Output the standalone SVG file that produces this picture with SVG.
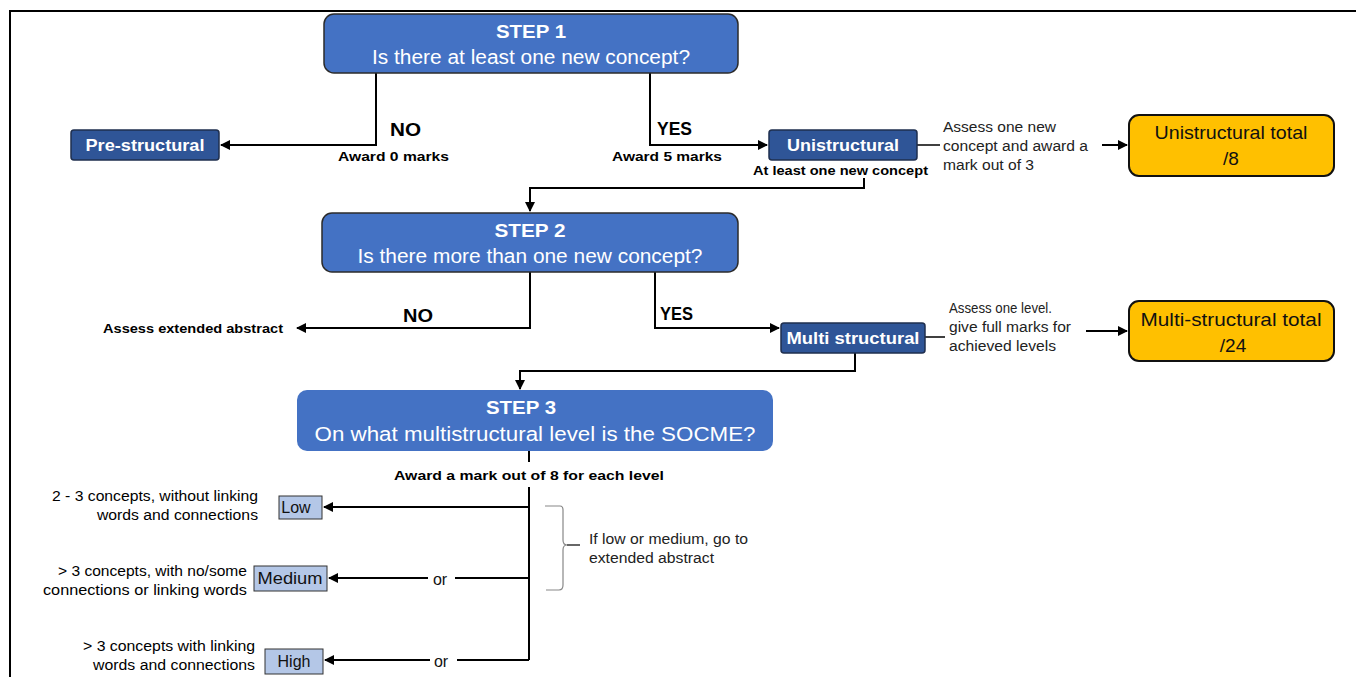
<svg xmlns="http://www.w3.org/2000/svg" width="1356" height="677" viewBox="0 0 1356 677">
  <style>
    text { font-family: "Liberation Sans", Arial, sans-serif; }
    .step { fill: #4472C4; stroke: #2B2B2B; stroke-width: 1.5; }
    .step3 { fill: #4472C4; }
    .stepTitle { fill: #fff; font-weight: bold; font-size: 19px; text-anchor: middle; }
    .stepQ { fill: #fff; font-size: 20px; text-anchor: middle; }
    .level { fill: #2F5597; stroke: #1F2F4F; stroke-width: 1.5; }
    .levelTxt { fill: #fff; font-weight: bold; font-size: 17px; text-anchor: middle; }
    .total { fill: #FFC000; stroke: #111; stroke-width: 2; }
    .totalTxt { fill: #111; font-size: 19px; text-anchor: middle; }
    .grade { fill: #B4C7E7; stroke: #333; stroke-width: 1; }
    .gradeTxt { fill: #111; font-size: 16px; text-anchor: middle; }
    .yn { fill: #000; font-weight: bold; font-size: 18px; }
    .award { fill: #000; font-weight: bold; font-size: 13px; }
    .note { fill: #222; font-size: 14px; }
    .desc { fill: #000; font-size: 14px; text-anchor: end; }
    .wire { fill: none; stroke: #000; stroke-width: 2; }
    .thin { fill: none; stroke: #000; stroke-width: 1.5; }
  </style>
  <defs>
    <marker id="arrow" viewBox="0 0 10 10" refX="9" refY="5" markerWidth="5" markerHeight="5" orient="auto" markerUnits="strokeWidth">
      <path d="M0,0 L10,5 L0,10 z" fill="#000"/>
    </marker>
  </defs>

  <rect width="1356" height="677" fill="#fff"/>
  <!-- page frame -->
  <path d="M10,677 V11 H1356" fill="none" stroke="#000" stroke-width="2"/>

  <!-- connectors -->
  <g id="connectors">
    <path class="wire" d="M376,73 V145 H221" marker-end="url(#arrow)"/>
    <path class="wire" d="M650,73 V145 H767" marker-end="url(#arrow)"/>
    <path class="thin" d="M917,145 H940"/>
    <path class="wire" d="M1102,145 H1127" marker-end="url(#arrow)"/>
    <path class="wire" d="M864,178 V188 H530 V211" marker-end="url(#arrow)"/>
    <path class="wire" d="M530,272 V328 H297" marker-end="url(#arrow)"/>
    <path class="wire" d="M655,272 V328 H779" marker-end="url(#arrow)"/>
    <path class="thin" d="M925,337 H945"/>
    <path class="wire" d="M1086,331 H1127" marker-end="url(#arrow)"/>
    <path class="wire" d="M855,353 V371 H520 V389" marker-end="url(#arrow)"/>
    <path class="wire" d="M529,451 V462"/>
    <path class="wire" d="M529,487 V660"/>
    <path class="wire" d="M529,507 H324" marker-end="url(#arrow)"/>
    <path class="wire" d="M529,578 H455"/>
    <path class="wire" d="M428,578 H329" marker-end="url(#arrow)"/>
    <path class="wire" d="M529,660 H457"/>
    <path class="wire" d="M430,660 H325" marker-end="url(#arrow)"/>
    <!-- brace grouping low and medium -->
    <path d="M545,506 H560 Q563,506 563,510 V540 Q563,545 567,545 Q563,545 563,550 V585 Q563,590 559,590 H546" fill="none" stroke="#888" stroke-width="1.2"/>
    <path d="M567,545 H580" stroke="#000" stroke-width="1.2"/>
  </g>

  <g id="step1">
    <rect class="step" x="324" y="14" width="414" height="59" rx="10"/>
    <text class="stepTitle" x="531" y="38" textLength="70" lengthAdjust="spacingAndGlyphs">STEP 1</text>
    <text class="stepQ" x="531" y="64" textLength="318" lengthAdjust="spacingAndGlyphs">Is there at least one new concept?</text>
  </g>

  <g id="prestructural">
    <rect class="level" x="71" y="130" width="148" height="30" rx="3"/>
    <text class="levelTxt" x="145" y="151" textLength="119" lengthAdjust="spacingAndGlyphs">Pre-structural</text>
  </g>
  <g id="step1-no-label">
    <text class="yn" x="390" y="136" textLength="31" lengthAdjust="spacingAndGlyphs">NO</text>
    <text class="award" x="338" y="161" textLength="111" lengthAdjust="spacingAndGlyphs">Award 0 marks</text>
  </g>
  <g id="step1-yes-label">
    <text class="yn" x="657" y="135" textLength="35" lengthAdjust="spacingAndGlyphs">YES</text>
    <text class="award" x="612" y="161" textLength="110" lengthAdjust="spacingAndGlyphs">Award 5 marks</text>
  </g>

  <g id="unistructural">
    <rect class="level" x="769" y="130" width="148" height="30" rx="3"/>
    <text class="levelTxt" x="843" y="151" textLength="112" lengthAdjust="spacingAndGlyphs">Unistructural</text>
    <text class="award" x="753" y="175" font-size="14" textLength="175" lengthAdjust="spacingAndGlyphs">At least one new concept</text>
  </g>
  <g id="unistructural-note">
    <text class="note" x="943" y="132" textLength="113" lengthAdjust="spacingAndGlyphs">Assess one new</text>
    <text class="note" x="943" y="151" textLength="145" lengthAdjust="spacingAndGlyphs">concept and award a</text>
    <text class="note" x="943" y="170" textLength="91" lengthAdjust="spacingAndGlyphs">mark out of 3</text>
  </g>
  <g id="unistructural-total">
    <rect class="total" x="1129" y="115" width="205" height="61" rx="10"/>
    <text class="totalTxt" x="1231" y="139" textLength="153" lengthAdjust="spacingAndGlyphs">Unistructural total</text>
    <text class="totalTxt" x="1231" y="165">/8</text>
  </g>

  <g id="step2">
    <rect class="step" x="322" y="213" width="416" height="59" rx="10"/>
    <text class="stepTitle" x="530" y="237" textLength="71" lengthAdjust="spacingAndGlyphs">STEP 2</text>
    <text class="stepQ" x="530" y="263" textLength="345" lengthAdjust="spacingAndGlyphs">Is there more than one new concept?</text>
  </g>
  <g id="extended-abstract">
    <text class="award" x="103" y="333" font-size="14" textLength="180" lengthAdjust="spacingAndGlyphs">Assess extended abstract</text>
  </g>
  <g id="step2-labels">
    <text class="yn" x="403" y="322" textLength="30" lengthAdjust="spacingAndGlyphs">NO</text>
    <text class="yn" x="660" y="320" textLength="33" lengthAdjust="spacingAndGlyphs">YES</text>
  </g>

  <g id="multistructural">
    <rect class="level" x="781" y="323" width="144" height="30" rx="3"/>
    <text class="levelTxt" x="853" y="344" textLength="133" lengthAdjust="spacingAndGlyphs">Multi structural</text>
  </g>
  <g id="multistructural-note">
    <text class="note" x="949" y="313" textLength="103" lengthAdjust="spacingAndGlyphs">Assess one level.</text>
    <text class="note" x="949" y="332" textLength="122" lengthAdjust="spacingAndGlyphs">give full marks for</text>
    <text class="note" x="949" y="351" textLength="107" lengthAdjust="spacingAndGlyphs">achieved levels</text>
  </g>
  <g id="multistructural-total">
    <rect class="total" x="1129" y="301" width="205" height="60" rx="10"/>
    <text class="totalTxt" x="1231" y="326" textLength="181" lengthAdjust="spacingAndGlyphs">Multi-structural  total</text>
    <text class="totalTxt" x="1233" y="352">/24</text>
  </g>

  <g id="step3">
    <rect class="step3" x="297" y="390" width="476" height="61" rx="10"/>
    <text class="stepTitle" x="521" y="414" textLength="70" lengthAdjust="spacingAndGlyphs">STEP 3</text>
    <text class="stepQ" x="535" y="441" textLength="441" lengthAdjust="spacingAndGlyphs">On what multistructural level is the SOCME?</text>
  </g>
  <g id="step3-award">
    <text class="award" x="394" y="480" font-size="14" textLength="270" lengthAdjust="spacingAndGlyphs">Award a mark out of 8 for each level</text>
  </g>

  <g id="low">
    <rect class="grade" x="279" y="496" width="43" height="23"/>
    <text class="gradeTxt" x="296" y="513">Low</text>
    <text class="desc" x="258" y="501" textLength="206" lengthAdjust="spacingAndGlyphs">2 - 3 concepts, without linking</text>
    <text class="desc" x="258" y="520" textLength="161" lengthAdjust="spacingAndGlyphs">words and connections</text>
  </g>
  <g id="medium">
    <rect class="grade" x="254" y="566" width="73" height="25"/>
    <text class="gradeTxt" x="290" y="584" textLength="65" lengthAdjust="spacingAndGlyphs">Medium</text>
    <text class="desc" x="247" y="576" textLength="189" lengthAdjust="spacingAndGlyphs">&gt; 3 concepts, with no/some</text>
    <text class="desc" x="247" y="595" textLength="204" lengthAdjust="spacingAndGlyphs">connections or linking words</text>
    <text class="gradeTxt" x="440" y="585">or</text>
  </g>
  <g id="high">
    <rect class="grade" x="265" y="649" width="58" height="25"/>
    <text class="gradeTxt" x="294" y="667">High</text>
    <text class="desc" x="255" y="651" textLength="172" lengthAdjust="spacingAndGlyphs">&gt; 3 concepts with linking</text>
    <text class="desc" x="255" y="670" textLength="162" lengthAdjust="spacingAndGlyphs">words and connections</text>
    <text class="gradeTxt" x="441" y="667">or</text>
  </g>
  <g id="brace-note">
    <text class="note" x="589" y="544" textLength="159" lengthAdjust="spacingAndGlyphs">If low or medium, go to</text>
    <text class="note" x="589" y="563" textLength="125" lengthAdjust="spacingAndGlyphs">extended abstract</text>
  </g>
</svg>
